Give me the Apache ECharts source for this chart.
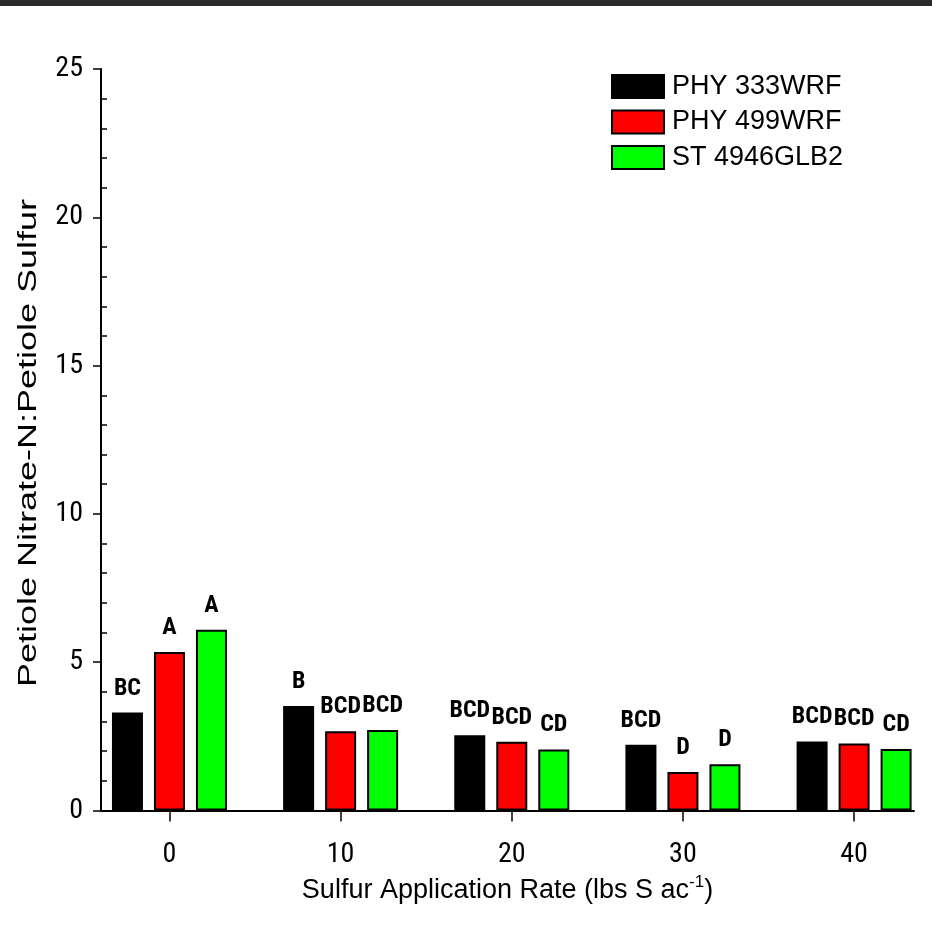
<!DOCTYPE html>
<html>
<head>
<meta charset="utf-8">
<script src="https://cdn.jsdelivr.net/npm/echarts@6/dist/echarts.min.js"></script>
<style>
    html, body { margin: 0; padding: 0; background: #fff; }
    #nsRatio { width: 932px; height: 928px; }
</style>
</head>
<body>
<div id="nsRatio"></div>
<script>
/* 硫肥用量 vs 叶柄硝态氮:叶柄硫 */
var rates = [0, 10, 20, 30, 40];
var xTicks = [0, 10, 20, 30, 40];
var yTicks = [0, 5, 10, 15, 20, 25];

var varietyNames = ['PHY 333WRF', 'PHY 499WRF', 'ST 4946GLB2'];
var phy333 = [3.30, 3.52, 2.54, 2.22, 2.33];
var phy499 = [5.34, 2.67, 2.32, 1.30, 2.26];
var st4946 = [6.09, 2.71, 2.06, 1.56, 2.07];

var phy333Letters = ['BC', 'B', 'BCD', 'BCD', 'BCD'];
var phy499Letters = ['A', 'BCD', 'BCD', 'D', 'BCD'];
var st4946Letters = ['A', 'BCD', 'CD', 'D', 'CD'];

var barColors = ['#000000', '#ff0000', '#00ff00'];

var narrow = "'Roboto Condensed', 'Liberation Sans Narrow', 'Arial Narrow', sans-serif";
var sans = "'Liberation Sans', Arial, sans-serif";

function makeSeries(name, values, letters, color) {
    return {
        name: name,
        type: 'bar',
        barWidth: 31,
        barGap: '35.5%',
        itemStyle: {
            color: color,
            borderColor: '#000',
            borderWidth: 2
        },
        label: {
            show: true,
            position: 'top',
            distance: 12,
            fontFamily: narrow,
            fontWeight: 'bold',
            fontSize: 24,
            color: '#000',
            formatter: function (p) {
                return letters[p.dataIndex];
            }
        },
        data: rates.map(function (r, i) { return [r, values[i]]; })
    };
}

function makeChart() {
    var chart = echarts.init(document.getElementById('nsRatio'));
    var option = {
        animation: false,
        backgroundColor: '#ffffff',
        grid: {
            left: 101,
            right: 18,
            top: 69,
            bottom: 117.5
        },
        legend: {
            orient: 'vertical',
            left: 606,
            top: 68,
            itemWidth: 52,
            itemHeight: 23,
            itemGap: 8.5,
            icon: 'rect',
            textStyle: {
                fontFamily: sans,
                fontSize: 27,
                color: '#000',
                padding: [0, 0, 0, 3]
            },
            data: varietyNames
        },
        xAxis: {
            type: 'value',
            min: -4,
            max: 43.5,
            name: '{n|Sulfur Application Rate (lbs S ac}{s|-1}{n|)}',
            nameLocation: 'middle',
            nameGap: 61,
            nameTextStyle: {
                rich: {
                    n: { fontFamily: sans, fontSize: 27, color: '#000', lineHeight: 34 },
                    s: { fontFamily: sans, fontSize: 17, color: '#000', verticalAlign: 'top', lineHeight: 34 }
                }
            },
            axisLine: { show: true, onZero: false, lineStyle: { color: '#000', width: 2 } },
            axisTick: { show: true, length: 11, customValues: xTicks, lineStyle: { color: '#000', width: 1.5 } },
            axisLabel: {
                customValues: xTicks,
                margin: 30,
                fontFamily: narrow,
                fontSize: 28,
                color: '#000'
            },
            splitLine: { show: false }
        },
        yAxis: [
            {
                type: 'value',
                min: 0,
                max: 25,
                interval: 5,
                axisLine: { show: true, onZero: false, lineStyle: { color: '#000', width: 2 } },
                axisTick: { show: true, length: 8, lineStyle: { color: '#000', width: 1.5 } },
                axisLabel: {
                    margin: 18,
                    fontFamily: narrow,
                    fontSize: 28,
                    color: '#000',
                    customValues: yTicks
                },
                splitLine: { show: false }
            },
            {
                // 内侧次刻度
                type: 'value',
                min: 0,
                max: 25,
                interval: 5,
                position: 'left',
                axisLine: { show: false, onZero: false },
                axisTick: { show: true, inside: true, length: 1, lineStyle: { color: 'rgba(0,0,0,0)' } },
                minorTick: { show: true, splitNumber: 5, length: 6, lineStyle: { color: '#000', width: 1.5 } },
                axisLabel: { show: false },
                splitLine: { show: false }
            }
        ],
        graphic: [
            {
                type: 'rect',
                left: 0,
                top: 0,
                shape: { width: 932, height: 6 },
                style: { fill: '#2b2b2b' }
            },
            {
                type: 'text',
                x: 29,
                y: 443,
                rotation: Math.PI / 2,
                scaleX: 1.44,
                style: {
                    text: 'Petiole Nitrate-N:Petiole Sulfur',
                    fontFamily: sans,
                    fontSize: 25,
                    fill: '#000',
                    align: 'center',
                    verticalAlign: 'middle'
                }
            }
        ],
        series: [
            makeSeries(varietyNames[0], phy333, phy333Letters, barColors[0]),
            makeSeries(varietyNames[1], phy499, phy499Letters, barColors[1]),
            makeSeries(varietyNames[2], st4946, st4946Letters, barColors[2])
        ]
    };
    chart.setOption(option);
}

makeChart();
</script>
</body>
</html>
